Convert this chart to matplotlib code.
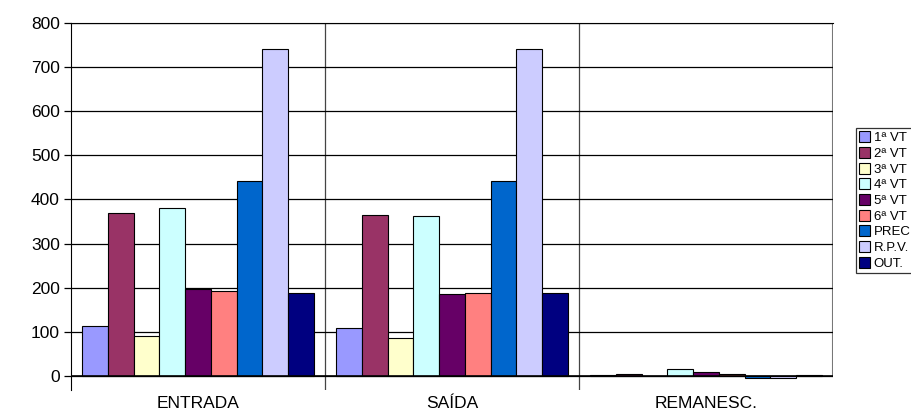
import numpy as np
import matplotlib
matplotlib.use("Agg")
import matplotlib.pyplot as plt

plt.rcParams['font.family'] = ['Liberation Sans', 'DejaVu Sans']

categories = ['ENTRADA', 'SAÍDA', 'REMANESC.']
series = ['1ª VT', '2ª VT', '3ª VT', '4ª VT', '5ª VT', '6ª VT', 'PREC', 'R.P.V.', 'OUT.']
vt1 = [113, 108, 1]
vt2 = [370, 365, 5]
vt3 = [90, 87, 0]
vt4 = [380, 362, 15]
vt5 = [198, 185, 9]
vt6 = [193, 188, 5]
prec = [441, 441, -4]
rpv = [740, 740, -4]
out = [188, 188, 1]
colors = ['#9999FF', '#993366', '#FFFFCC', '#CCFFFF', '#660066',
          '#FF8080', '#0066CC', '#CCCCFF', '#000080']

values = [vt1, vt2, vt3, vt4, vt5, vt6, prec, rpv, out]

ymin, ymax = -32, 800
fig = plt.figure(figsize=(9.12, 4.17), dpi=100)
ax = fig.add_axes([71/912, (417-390)/417, (833-71)/912, (390-23)/417])

x = np.arange(len(categories))
group = 0.91
w = group / len(series)
for i, (name, vals) in enumerate(zip(series, values)):
    pos = x - group/2 + w*(i + 0.5)
    ax.bar(pos, vals, width=w, color=colors[i], edgecolor='black',
           linewidth=0.8, label=name, zorder=3)

ax.set_xlim(-0.5, 2.5)
ax.set_ylim(ymin, ymax)
ax.set_yticks(range(0, 801, 100))
ax.yaxis.grid(True, color='black', linewidth=0.9, zorder=0)
for b in [0.5, 1.5]:
    ax.axvline(b, color='#444444', linewidth=0.9, zorder=1)
# right border of the plot area stops at the baseline
ax.axvline(2.5, ymin=-ymin/(ymax-ymin), color='#777777', linewidth=1.5, zorder=1)
ax.axhline(0, color='black', linewidth=1.2, zorder=4)

ax.set_xticks(x)
ax.set_xticklabels(categories, fontsize=12.5)
ax.tick_params(axis='x', length=0, pad=4)
ax.tick_params(axis='y', labelsize=12.5, length=5, width=0.9, pad=3)

ax.spines['left'].set_color('black')
ax.spines['bottom'].set_visible(False)
ax.spines['top'].set_color('black')
ax.spines['right'].set_visible(False)

leg = fig.legend(loc='upper left', bbox_to_anchor=(856/912, 1 - 128/417),
                 fontsize=9.5, frameon=True, fancybox=False, edgecolor='black',
                 handlelength=0.8, handleheight=0.9, handletextpad=0.3,
                 borderpad=0.25, labelspacing=0.2, borderaxespad=0)
leg.get_frame().set_linewidth(0.9)

fig.savefig('out.png', dpi=100)
